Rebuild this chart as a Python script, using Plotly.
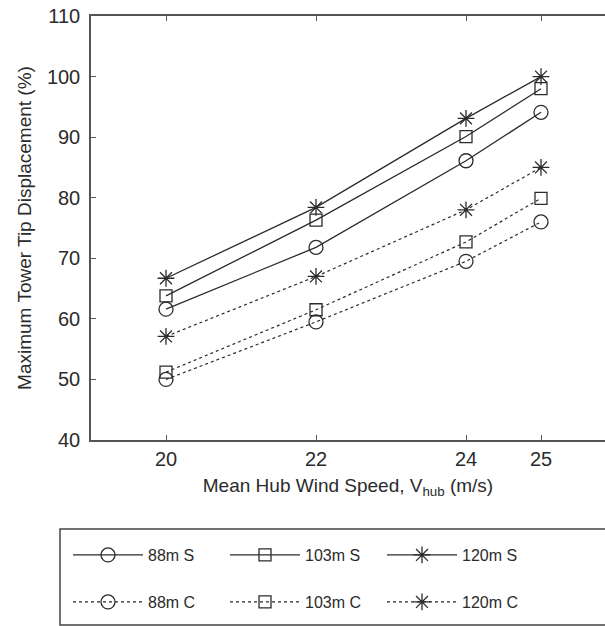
import plotly.graph_objects as go

# Mean hub wind speed (m/s)
wind_speed = [20, 22, 24, 25]
x_ticks = [20, 22, 24, 25]
y_ticks = [40, 50, 60, 70, 80, 90, 100, 110]

# Maximum tower tip displacement (%) per tower height / configuration
disp_88m_s = [61.6, 71.8, 86.1, 94.1]
disp_103m_s = [63.8, 76.3, 90.1, 98.0]
disp_120m_s = [66.7, 78.4, 93.1, 100.0]
disp_88m_c = [50.0, 59.5, 69.5, 76.0]
disp_103m_c = [51.2, 61.5, 72.7, 79.9]
disp_120m_c = [57.1, 67.0, 78.0, 85.0]

series = [
    ("88m S", disp_88m_s, "circle-open", "solid", "legend"),
    ("103m S", disp_103m_s, "square-open", "solid", "legend"),
    ("120m S", disp_120m_s, "asterisk-open", "solid", "legend"),
    ("88m C", disp_88m_c, "circle-open", "dot", "legend2"),
    ("103m C", disp_103m_c, "square-open", "dot", "legend2"),
    ("120m C", disp_120m_c, "asterisk-open", "dot", "legend2"),
]

ink = "#2b2b2b"
font_family = "Liberation Sans, Arial, sans-serif"

fig = go.Figure()
for name, values, symbol, dash, legend_id in series:
    fig.add_trace(go.Scatter(
        x=wind_speed, y=values, name=name, mode="lines+markers",
        legend=legend_id,
        line=dict(color=ink, width=1.3 if dash == "solid" else 1.2, dash=dash),
        marker=dict(symbol=symbol, size=14 if symbol != "square-open" else 12,
                    color=ink, line=dict(color=ink, width=1.3)),
    ))

W, H = 605, 626
left, top, bottom = 91, 16, 186
plot_w = W - left
plot_h = H - top - bottom

def px_x(p):
    return (p - left) / plot_w

def px_y(p):
    return (H - bottom - p) / plot_h

legend_style = dict(
    orientation="h", xanchor="left", yanchor="top",
    itemwidth=70, entrywidth=72, entrywidthmode="pixels",
    font=dict(size=16, color=ink), bgcolor="rgba(0,0,0,0)",
    borderwidth=0,
)

fig.update_layout(
    width=W, height=H,
    margin=dict(l=left, r=0, t=top, b=bottom, pad=0),
    paper_bgcolor="white", plot_bgcolor="white",
    font=dict(family=font_family, size=19, color=ink),
    showlegend=True,
    legend=dict(x=px_x(68), y=px_y(538), **legend_style),
    legend2=dict(x=px_x(68), y=px_y(585), **legend_style),
    xaxis=dict(
        range=[19, 19 + plot_w / 75.0], tickvals=x_ticks,
        ticktext=[str(v) for v in x_ticks],
        showgrid=False, zeroline=False,
        showline=True, linecolor="#555", linewidth=1.5, mirror="ticks",
        ticks="inside", ticklen=5, tickwidth=1.2, tickcolor="#555",
        tickfont=dict(size=20),
        title=dict(text="Mean Hub Wind Speed, V<sub>hub</sub> (m/s)",
                   font=dict(size=19), standoff=10),
    ),
    yaxis=dict(
        range=[40, 110], tickvals=y_ticks,
        showgrid=False, zeroline=False,
        showline=True, linecolor="#555", linewidth=1.5,
        ticks="inside", ticklen=5, tickwidth=1.2, tickcolor="#555",
        tickfont=dict(size=20), ticklabelstandoff=5,
        title=dict(text="Maximum Tower Tip Displacement (%)",
                   font=dict(size=19), standoff=10),
    ),
    shapes=[
        dict(type="rect", xref="paper", yref="paper",
             x0=px_x(60), x1=1.2, y0=px_y(625), y1=px_y(529),
             line=dict(color="#444", width=1.5), fillcolor="rgba(0,0,0,0)"),
    ],
)

fig.write_html("out.html")
